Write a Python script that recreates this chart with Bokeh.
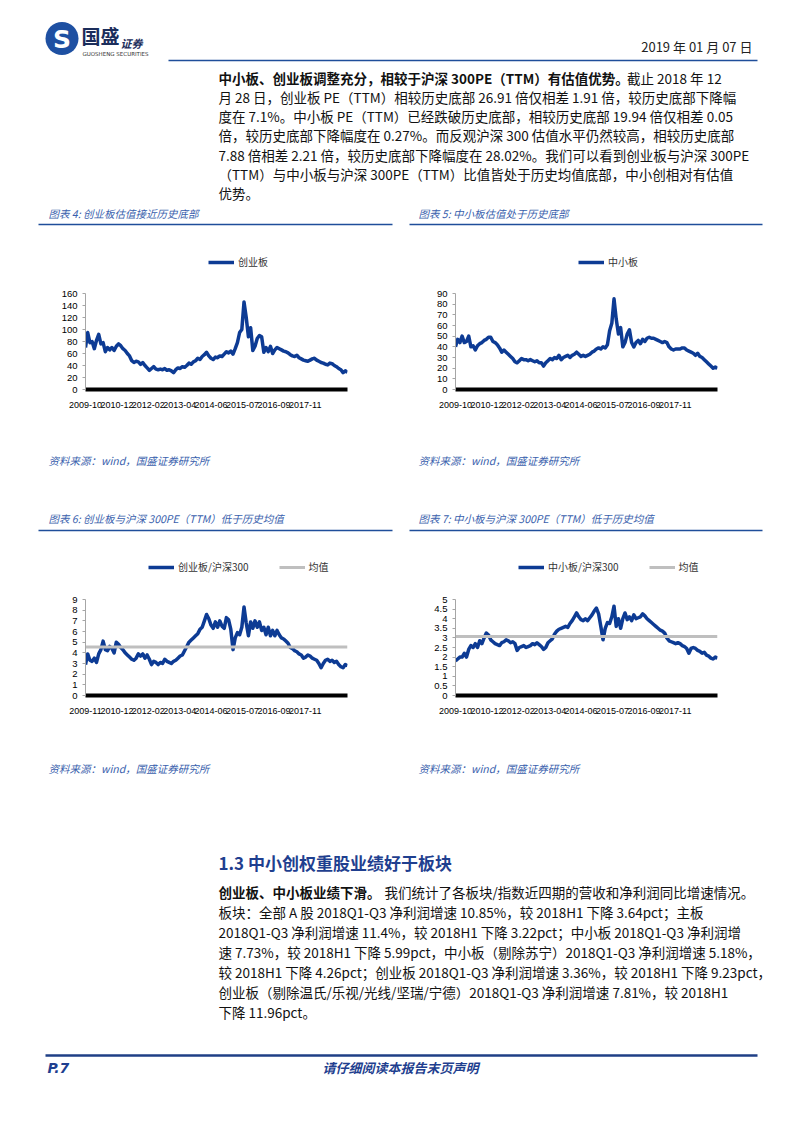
from bokeh.plotting import figure
from bokeh.layouts import column, row
from bokeh.models import Range1d, FixedTicker, Legend, LegendItem
from bokeh.embed import file_html
from bokeh.resources import INLINE
from bokeh.core.properties import value

# ---------------- data ----------------
x_labels_a = ["2009-10", "2010-12", "2012-02", "2013-04", "2014-06", "2015-07", "2016-09", "2017-11"]
x_labels_b = ["2009-11", "2010-12", "2012-02", "2013-04", "2014-06", "2015-07", "2016-09", "2017-11"]
x_label_pos = [0, 14.3, 28.5, 42.8, 57.0, 71.3, 85.6, 99.8]

cyb_pe = [70, 95, 78, 80, 68, 82, 92, 76, 78, 63,
          70, 66, 70, 65, 72, 76, 73, 68, 65, 60,
          56, 48, 45, 47, 46, 42, 45, 40, 36, 32,
          35, 38, 34, 33, 34, 33, 35, 32, 33, 31,
          28, 33, 36, 35, 38, 37, 40, 44, 42, 46,
          48, 52, 50, 55, 58, 62, 56, 52, 50, 54,
          53, 56, 55, 59, 63, 61, 64, 59, 68, 78,
          95, 100, 146, 120, 88, 103, 65, 72, 85, 90,
          88, 62, 70, 63, 72, 60, 66, 70, 68, 66,
          64, 63, 61, 58, 56, 55, 57, 53, 51, 49,
          48, 47, 49, 51, 52, 49, 47, 45, 44, 42,
          41, 44, 43, 40, 38, 35, 33, 28, 31, 29]

sme_pe = [40, 47, 44, 50, 44, 45, 50, 40, 41, 37,
          41, 43, 44, 46, 47, 49, 49, 45, 44, 42,
          39, 35, 37, 35, 33, 31, 29, 26, 25, 27,
          29, 28, 28, 27, 28, 27, 26, 27, 25, 25,
          22, 25, 27, 29, 28, 30, 29, 32, 28, 30,
          31, 32, 30, 32, 33, 35, 33, 31, 32, 31,
          32, 33, 35, 36, 38, 39, 38, 40, 39, 42,
          55, 62, 85, 66, 52, 58, 40, 44, 52, 56,
          44, 40, 44, 46, 43, 47, 45, 48, 49, 48,
          48, 47, 46, 45, 44, 45, 44, 40, 38, 37,
          38, 38, 38, 39, 39, 37, 36, 35, 34, 32,
          34, 31, 30, 28, 26, 24, 22, 20, 21, 20]

cyb_ratio = [2.9, 3.9, 3.3, 3.2, 3.5, 3.1, 3.9, 4.3, 5.1, 4.3,
             4.2, 4.6, 4.4, 4.0, 5.0, 4.8, 4.5, 4.3, 4.0, 3.8,
             3.6, 3.4, 3.3, 3.5, 3.9, 3.7, 3.9, 3.5, 3.8, 3.4,
             2.9, 3.2, 3.1, 2.9, 3.1, 3.0, 3.4, 3.2, 3.1, 3.0,
             3.2, 3.3, 3.5, 3.7, 3.8, 4.2, 4.6, 5.0, 5.2, 5.4,
             5.6, 5.8, 6.2, 6.4, 7.0, 7.6, 7.2, 6.6, 6.3, 6.9,
             6.4, 7.0, 6.5, 6.3, 7.3, 7.1, 6.2, 4.3, 5.4, 5.9,
             5.7, 6.4, 8.3, 6.8, 5.6, 6.9, 6.3, 7.0, 6.4, 6.9,
             6.1, 6.4, 5.7, 6.4, 5.6, 6.1, 5.6, 6.1, 5.7, 5.4,
             5.3, 5.1, 4.9, 4.5, 4.4, 4.2, 4.1, 3.9, 3.8, 3.5,
             3.6, 3.8, 3.7, 3.5, 3.4, 3.3, 3.0, 2.6, 3.0, 3.3,
             3.4, 3.2, 3.3, 3.1, 3.2, 2.9, 2.7, 2.6, 2.9, 2.8]
cyb_ratio_mean = 4.55

sme_ratio = [1.8, 1.9, 2.0, 2.0, 2.2, 2.0, 2.4, 2.6, 2.5, 2.7,
             2.5, 2.85, 2.7, 3.0, 3.25, 3.15, 2.9, 2.8, 2.7, 2.65,
             2.6, 2.75, 2.8, 2.9, 2.85, 2.75, 2.8, 2.7, 2.35, 2.5,
             2.55, 2.6, 2.5, 2.55, 2.6, 2.7, 2.65, 2.75, 2.65, 2.55,
             2.4, 2.5, 2.75, 2.85, 2.95, 3.2, 3.35, 3.45, 3.5, 3.55,
             3.6, 3.55, 3.75, 3.9, 4.1, 4.3, 4.1, 3.95, 3.9, 4.0,
             3.9, 4.05, 4.2, 4.4, 4.55, 4.25, 3.6, 2.9, 3.5, 3.8,
             3.75, 4.1, 4.65, 3.6, 4.0, 3.5, 4.0, 4.3, 3.95, 4.1,
             3.9, 4.2, 4.0, 4.05, 4.1, 4.25, 4.15, 4.0, 3.9, 3.8,
             3.7, 3.6, 3.5, 3.4, 3.35, 3.25, 3.0, 2.85, 2.8, 2.75,
             2.7, 2.75, 2.7, 2.6, 2.55, 2.45, 2.2, 2.45, 2.5, 2.45,
             2.35, 2.3, 2.2, 2.25, 2.1, 2.05, 1.95, 1.9, 2.0, 1.95]
sme_ratio_mean = 3.07

y_ticks_cyb = [0, 20, 40, 60, 80, 100, 120, 140, 160]
y_ticks_sme = [0, 10, 20, 30, 40, 50, 60, 70, 80, 90]
y_ticks_r6 = [0, 1, 2, 3, 4, 5, 6, 7, 8, 9]
y_ticks_r7 = [0, 0.5, 1, 1.5, 2, 2.5, 3, 3.5, 4, 4.5, 5]

# ---------------- style ----------------
CJK = "Noto Sans CJK SC"
AXF = "Liberation Sans"
SERIES_BLUE = "#0D3B94"
MEAN_GREY = "#BFBFBF"
RULE_BLUE = "#1F4E9A"
TITLE_BLUE = "#3A5FAD"
HEAD_BLUE = "#1F3F8F"
TEXT = "#111111"
PAGE_W = 802
HALF_W = 401


def text_fig(top, bottom):
    f = figure(width=PAGE_W, height=bottom - top, x_range=Range1d(0, PAGE_W),
               y_range=Range1d(bottom, top), x_axis_location=None, y_axis_location=None,
               title=None, min_border=0, output_backend="svg", toolbar_location=None)
    f.grid.visible = False
    f.outline_line_color = None
    return f


def txt(f, x, y, s, size, color=TEXT, font=CJK, style="normal", align="left"):
    f.text(x=[x], y=[y], text=[s], text_font=value(font), text_font_size=f"{size}px",
           text_font_style=style, text_color=color, text_align=align, text_baseline="middle")


def est_w(s, size):
    w = 0.0
    for ch in s:
        o = ord(ch)
        if o > 0x2E80:
            w += 1.0
        elif ch == " ":
            w += 0.22
        elif ch.isdigit():
            w += 0.55
        elif ch.isupper():
            w += 0.62
        elif ch in ".,:;":
            w += 0.26
        elif ch == "%":
            w += 0.86
        else:
            w += 0.5
    return w * size


def rule(f, x0, x1, y, color=RULE_BLUE, width=1.5):
    f.line([x0, x1], [y, y], line_color=color, line_width=width)


def paragraph(f, lines, x0, y0, dy, size=13.5):
    for i, (b, n) in enumerate(lines):
        y = y0 + i * dy
        if b:
            txt(f, x0, y, b, size, style="bold")
        if n:
            txt(f, x0 + (est_w(b, size) + 4 if b else 0), y, n, size)


def make_chart(vals, yticks, xlabels, names, mean, left, right, block_top, block_bottom,
               top_y, zero_y, legend_x, legend_y):
    n = len(vals)
    xs = list(range(n))
    frame_h = zero_y - block_top
    ymax = yticks[-1]
    yend = ymax * frame_h / (zero_y - top_y)
    p = figure(width=HALF_W, height=block_bottom - block_top, x_range=Range1d(0, n - 1),
               y_range=Range1d(0, yend), min_border_left=left, min_border_right=right,
               min_border_top=0, min_border_bottom=block_bottom - zero_y, title=None,
               output_backend="svg", toolbar_location=None)
    p.grid.visible = False
    p.outline_line_color = None
    r = p.line(xs, vals, line_color=SERIES_BLUE, line_width=3.5, line_join="round")
    items = [LegendItem(label=value(names[0]), renderers=[r])]
    if mean is not None:
        rm = p.line([xs[0], xs[-1]], [mean, mean], line_color=MEAN_GREY, line_width=3)
        items.append(LegendItem(label=value(names[1]), renderers=[rm]))
    leg = Legend(items=items, location=(legend_x, zero_y - legend_y - 7),
                 orientation="horizontal", padding=0, margin=0, spacing=30,
                 glyph_width=26, glyph_height=12, label_height=12, label_standoff=4,
                 label_text_font=CJK, label_text_font_size="10px", label_text_color="#333333",
                 border_line_color=None, background_fill_alpha=0)
    p.add_layout(leg)

    xa = p.xaxis[0]
    xa.ticker = FixedTicker(ticks=x_label_pos)
    xa.major_label_overrides = {pos: lab for pos, lab in zip(x_label_pos, xlabels)}
    xa.axis_line_width = 4
    xa.axis_line_color = "black"
    xa.major_tick_line_color = None
    xa.minor_tick_line_color = None
    xa.major_label_standoff = 6
    xa.major_label_text_font = AXF
    xa.major_label_text_font_size = "9px"
    xa.major_label_text_color = "#000000"

    ya = p.yaxis[0]
    ya.ticker = FixedTicker(ticks=yticks)
    ya.bounds = (0, ymax)
    ya.axis_line_color = "#A6A6A6"
    ya.major_tick_line_color = "#A6A6A6"
    ya.major_tick_out = 3
    ya.major_tick_in = 0
    ya.minor_tick_line_color = None
    ya.major_label_standoff = 5
    ya.major_label_overrides = {t: ("%g" % t) for t in yticks}
    ya.major_label_text_font = AXF
    ya.major_label_text_font_size = "9.5px"
    ya.major_label_text_color = "#000000"
    return p


# ---------------- top block (page y 0 -> 240) ----------------
fa = text_fig(0, 240)
fa.circle(x=[61.5], y=[38], radius=16.5, fill_color="#1E50A2", line_color=None)
txt(fa, 61.5, 39, "S", 25, color="white", font="DejaVu Sans", style="bold", align="center")
txt(fa, 81, 35, "国盛", 19, color="#1B2D5B", style="bold")
txt(fa, 120, 42, "证券", 11, color="#1B2D5B", style="bold italic")
txt(fa, 82, 53, "GUOSHENG SECURITIES", 5.5, color="#333333", font="DejaVu Sans")
txt(fa, 752, 46, "2019 年 01 月 07 日", 13, color="#222222", align="right")
rule(fa, 168, 757, 60)

para1 = [
    ("中小板、创业板调整充分，相较于沪深 300PE（TTM）有估值优势。", "截止 2018 年 12"),
    ("", "月 28 日，创业板 PE（TTM）相较历史底部 26.91 倍仅相差 1.91 倍，较历史底部下降幅"),
    ("", "度在 7.1%。中小板 PE（TTM）已经跌破历史底部，相较历史底部 19.94 倍仅相差 0.05"),
    ("", "倍，较历史底部下降幅度在 0.27%。而反观沪深 300 估值水平仍然较高，相较历史底部"),
    ("", "7.88 倍相差 2.21 倍，较历史底部下降幅度在 28.02%。我们可以看到创业板与沪深 300PE"),
    ("", "（TTM）与中小板与沪深 300PE（TTM）比值皆处于历史均值底部，中小创相对有估值"),
    ("", "优势。"),
]
paragraph(fa, para1, 218, 77, 19.3)

txt(fa, 48, 213, "图表 4: 创业板估值接近历史底部", 10.5, color=TITLE_BLUE, style="italic")
txt(fa, 418, 213, "图表 5: 中小板估值处于历史底部", 10.5, color=TITLE_BLUE, style="italic")
rule(fa, 38, 392, 224)
rule(fa, 409, 762, 224)

# ---------------- charts 4 / 5 (page y 240 -> 420) ----------------
c4 = make_chart(cyb_pe, y_ticks_cyb, x_labels_a, ["创业板"], None, 85, 54, 240, 420, 293, 389, 123, 262)
c5 = make_chart(sme_pe, y_ticks_sme, x_labels_a, ["中小板"], None, 54, 85, 240, 420, 293, 389, 123, 262)

# ---------------- middle block (page y 420 -> 545) ----------------
fb = text_fig(420, 545)
txt(fb, 48, 460, "资料来源：wind，国盛证券研究所", 10.5, color=TITLE_BLUE, style="italic")
txt(fb, 418, 460, "资料来源：wind，国盛证券研究所", 10.5, color=TITLE_BLUE, style="italic")
txt(fb, 48, 518, "图表 6: 创业板与沪深 300PE（TTM）低于历史均值", 10.5, color=TITLE_BLUE, style="italic")
txt(fb, 418, 518, "图表 7: 中小板与沪深 300PE（TTM）低于历史均值", 10.5, color=TITLE_BLUE, style="italic")
rule(fb, 38, 392, 530)
rule(fb, 409, 762, 530)

# ---------------- charts 6 / 7 (page y 545 -> 725) ----------------
c6 = make_chart(cyb_ratio, y_ticks_r6, x_labels_b, ["创业板/沪深300", "均值"], cyb_ratio_mean,
                85, 54, 545, 725, 599, 695, 63, 567)
c7 = make_chart(sme_ratio, y_ticks_r7, x_labels_a, ["中小板/沪深300", "均值"], sme_ratio_mean,
                54, 85, 545, 725, 599, 695, 63, 567)

# ---------------- bottom block (page y 725 -> 1130) ----------------
fc = text_fig(725, 1130)
txt(fc, 48, 768, "资料来源：wind，国盛证券研究所", 10.5, color=TITLE_BLUE, style="italic")
txt(fc, 418, 768, "资料来源：wind，国盛证券研究所", 10.5, color=TITLE_BLUE, style="italic")
txt(fc, 218, 862, "1.3 中小创权重股业绩好于板块", 17, color=HEAD_BLUE, style="bold")

para2 = [
    ("创业板、中小板业绩下滑。", "我们统计了各板块/指数近四期的营收和净利润同比增速情况。"),
    ("", "板块：全部 A 股 2018Q1-Q3 净利润增速 10.85%，较 2018H1 下降 3.64pct；主板"),
    ("", "2018Q1-Q3 净利润增速 11.4%，较 2018H1 下降 3.22pct；中小板 2018Q1-Q3 净利润增"),
    ("", "速 7.73%，较 2018H1 下降 5.99pct，中小板（剔除苏宁）2018Q1-Q3 净利润增速 5.18%，"),
    ("", "较 2018H1 下降 4.26pct；创业板 2018Q1-Q3 净利润增速 3.36%，较 2018H1 下降 9.23pct，"),
    ("", "创业板（剔除温氏/乐视/光线/坚瑞/宁德）2018Q1-Q3 净利润增速 7.81%，较 2018H1"),
    ("", "下降 11.96pct。"),
]
paragraph(fc, para2, 218, 891, 20.0)

rule(fc, 45, 757, 1055, color="#1F3F86", width=2.5)
txt(fc, 47, 1067, "P.7", 14, color=HEAD_BLUE, font="DejaVu Sans", style="bold italic")
txt(fc, 400, 1067, "请仔细阅读本报告末页声明", 13, color=HEAD_BLUE, style="bold italic", align="center")

layout = column(fa, row(c4, c5, spacing=0), fb, row(c6, c7, spacing=0), fc, spacing=0)
open("out.html", "w").write(file_html(layout, INLINE))
